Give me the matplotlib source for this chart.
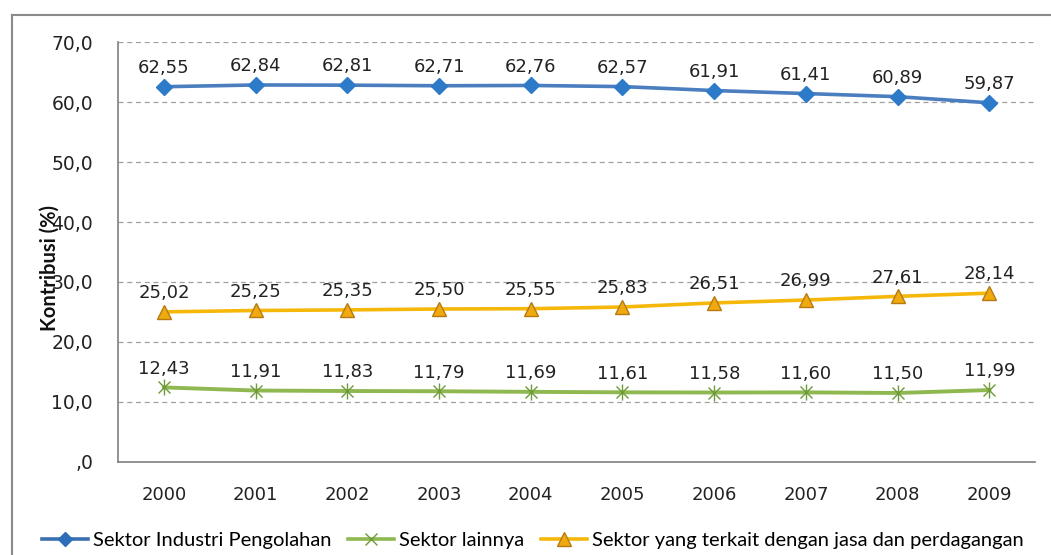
import matplotlib
matplotlib.use("Agg")
import matplotlib.pyplot as plt
from matplotlib.lines import Line2D

years = ["2000", "2001", "2002", "2003", "2004", "2005", "2006", "2007", "2008", "2009"]
industri = [62.55, 62.84, 62.81, 62.71, 62.76, 62.57, 61.91, 61.41, 60.89, 59.87]
jasa = [25.02, 25.25, 25.35, 25.50, 25.55, 25.83, 26.51, 26.99, 27.61, 28.14]
lainnya = [12.43, 11.91, 11.83, 11.79, 11.69, 11.61, 11.58, 11.60, 11.50, 11.99]
yticks = [0, 10, 20, 30, 40, 50, 60, 70]
ytick_labels = [",0", "10,0", "20,0", "30,0", "40,0", "50,0", "60,0", "70,0"]
series_names = ["Sektor Industri Pengolahan", "Sektor lainnya",
                "Sektor yang terkait dengan jasa dan perdagangan"]

fig = plt.figure(figsize=(10.51, 5.55), dpi=100)
ax = fig.add_axes([0.1123, 0.1676, 0.8727, 0.7567])

x = list(range(len(years)))
ax.plot(x, industri, color="#4a7ebf", lw=2.6, marker="D", ms=8,
        mfc="#2c7ac8", mec="#2c7ac8", zorder=3)
ax.plot(x, jasa, color="#f5b80a", lw=2.6, marker="^", ms=10,
        mfc="#f0aa10", mec="#b77a10", mew=1.0, zorder=3)
ax.plot(x, lainnya, color="#8fb850", lw=2.8, marker="x", ms=9,
        mec="#6f9a3a", mew=1.0, zorder=3)
ax.plot(x, lainnya, ls="none", marker="|", ms=11, mec="#6f9a3a", mew=1.0, zorder=3)

def fmt(v):
    return f"{v:.2f}".replace(".", ",")

for series in (industri, jasa, lainnya):
    for xi, v in zip(x, series):
        ax.annotate(fmt(v), (xi, v), xytext=(0, 7), textcoords="offset points",
                    ha="center", va="bottom", fontsize=13, color="#222222",
                    family="DejaVu Sans")

ax.set_xlim(-0.5, len(years) - 0.5)
ax.set_ylim(0, 70)
ax.set_yticks(yticks)
ax.set_yticklabels(ytick_labels)
ax.set_xticks(x)
ax.set_xticklabels(years)
ax.tick_params(axis="y", length=0, pad=18, labelsize=13.5, labelcolor="#222222")
ax.tick_params(axis="x", length=0, pad=17, labelsize=13, labelcolor="#222222")
for lab in ax.get_xticklabels() + ax.get_yticklabels():
    lab.set_family("DejaVu Sans")

ax.grid(axis="y", ls=(0, (4, 3)), color="#a0a0a0", lw=0.9)
ax.set_axisbelow(True)
for side in ("top", "right"):
    ax.spines[side].set_visible(False)
for side in ("left", "bottom"):
    ax.spines[side].set_color("#808080")
    ax.spines[side].set_linewidth(1.2)

fig.text(50 / 1051, 1 - 268 / 555, "Kontribusi (%)", rotation=90, ha="center",
         va="center", fontsize=14.5, fontweight="bold", family="Lato", color="#111111")

handles = [
    Line2D([], [], color="#3a6fb0", lw=2.6, marker="D", ms=7, mfc="#2c6fb8", mec="#2c6fb8"),
    Line2D([], [], color="#8fb850", lw=2.6, marker="x", ms=9, mec="#6f9a3a"),
    Line2D([], [], color="#f5b80a", lw=2.6, marker="^", ms=10, mfc="#f0aa10", mec="#b77a10"),
]
fig.legend(handles, series_names, loc="center", bbox_to_anchor=(0.507, 0.027),
           ncol=3, frameon=False, handlelength=2.3, columnspacing=0.8,
           handletextpad=0.25, prop={"family": "Lato", "size": 14.5})

# outer chart frame
fig.add_artist(Line2D([12 / 1051, 1.0], [1 - 15 / 555] * 2, color="#8a8a8a", lw=1.5,
                      transform=fig.transFigure))
fig.add_artist(Line2D([12 / 1051] * 2, [0, 1 - 15 / 555], color="#8a8a8a", lw=1.5,
                      transform=fig.transFigure))

fig.savefig("out.png", dpi=100)
